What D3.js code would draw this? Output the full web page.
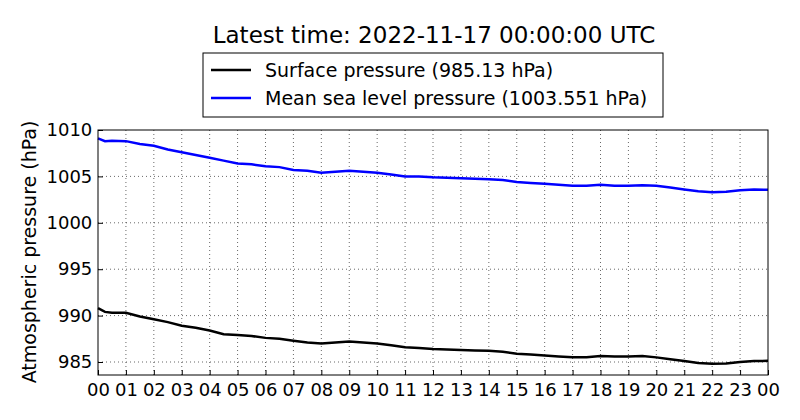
<!DOCTYPE html>
<html><head><meta charset="utf-8">
<script src="https://cdn.jsdelivr.net/npm/d3@7"></script>
<style>body{margin:0;background:#fff;font-family:"DejaVu Sans",sans-serif}</style>
</head><body><div id="chart"></div>
<script>
const width = 800, height = 420;
const margin = {top: 130, right: 32, bottom: 45, left: 98};

// hours since 00 UTC
const hours = [0,0.25,0.5,1,1.5,2,2.5,3,3.5,4,4.5,5,5.5,6,6.5,7,7.5,8,8.5,9,9.5,10,10.5,11,11.5,12,12.5,13,13.5,14,14.5,15,15.5,16,16.5,17,17.5,18,18.5,19,19.5,20,20.5,21,21.5,22,22.5,23,23.5,24];
const mslp = [1009.1,1008.8,1008.85,1008.8,1008.5,1008.3,1007.9,1007.6,1007.3,1007.0,1006.7,1006.4,1006.3,1006.1,1006.0,1005.7,1005.6,1005.4,1005.5,1005.6,1005.5,1005.4,1005.2,1005.0,1005.0,1004.9,1004.85,1004.8,1004.75,1004.7,1004.6,1004.4,1004.3,1004.2,1004.1,1004.0,1004.0,1004.1,1004.0,1004.0,1004.05,1004.0,1003.8,1003.6,1003.4,1003.3,1003.35,1003.5,1003.6,1003.55];
const sfcp = [990.8,990.4,990.3,990.3,989.9,989.6,989.3,988.9,988.7,988.4,988.0,987.9,987.8,987.6,987.5,987.3,987.1,987.0,987.1,987.2,987.1,987.0,986.8,986.6,986.5,986.4,986.35,986.3,986.25,986.2,986.1,985.9,985.8,985.7,985.6,985.5,985.5,985.65,985.6,985.6,985.65,985.5,985.3,985.1,984.9,984.8,984.85,985.0,985.1,985.13];
const yTicks = [985,990,995,1000,1005,1010];
const xTickLabels = ["00","01","02","03","04","05","06","07","08","09","10","11","12","13","14","15","16","17","18","19","20","21","22","23","00"];
const legendLabels = ["Surface pressure (985.13 hPa)","Mean sea level pressure (1003.551 hPa)"];
const colors = ["black","blue"];

const svg = d3.select("#chart").append("svg").attr("width", width).attr("height", height);
const x = d3.scaleLinear().domain([0,24]).range([margin.left, width - margin.right]);
const y = d3.scaleLinear().domain([983.6,1010]).range([height - margin.bottom, margin.top]);

// grid
svg.append("g").selectAll("line").data(d3.range(1,24)).enter().append("line")
  .attr("x1", d => x(d)).attr("x2", d => x(d)).attr("y1", y.range()[1]).attr("y2", y.range()[0])
  .attr("stroke","black").attr("stroke-width",0.6).attr("stroke-dasharray","1,3");
svg.append("g").selectAll("line").data(yTicks.slice(0,-1)).enter().append("line")
  .attr("y1", d => y(d)).attr("y2", d => y(d)).attr("x1", x.range()[0]).attr("x2", x.range()[1])
  .attr("stroke","black").attr("stroke-width",0.6).attr("stroke-dasharray","1,3");

const line = d3.line().x((d,i) => x(hours[i])).y(d => y(d));
[sfcp, mslp].forEach((s,k) => {
  svg.append("path").datum(s).attr("d", line).attr("fill","none")
    .attr("stroke", colors[k]).attr("stroke-width", 2.5);
});

// axes
const xAxis = svg.append("g").attr("transform", `translate(0,${height - margin.bottom})`)
  .call(d3.axisBottom(x).tickValues(d3.range(0,25)).tickFormat((d,i) => xTickLabels[i]).tickSizeInner(-5).tickSizeOuter(0));
const yAxis = svg.append("g").attr("transform", `translate(${margin.left},0)`)
  .call(d3.axisLeft(y).tickValues(yTicks).tickFormat(d3.format("d")).tickSizeInner(-5).tickSizeOuter(0));
[xAxis, yAxis].forEach(a => {
  a.selectAll("text").attr("font-family","DejaVu Sans").attr("font-size",18).attr("fill","black");
  a.select(".domain").remove();
});
xAxis.selectAll("text").attr("dy","1.0em");
yAxis.selectAll("text").attr("dx","-0.15em");
svg.append("rect").attr("x", margin.left).attr("y", margin.top)
  .attr("width", x.range()[1]-margin.left).attr("height", y.range()[0]-margin.top)
  .attr("fill","none").attr("stroke","black");

svg.append("text").attr("x", 434).attr("y", 43).attr("text-anchor","middle")
  .attr("font-size",23).text("Latest time: 2022-11-17 00:00:00 UTC");
svg.append("text").attr("transform","translate(36,252) rotate(-90)").attr("text-anchor","middle")
  .attr("font-size",19).text("Atmospheric pressure (hPa)");

// legend
const lg = svg.append("g");
lg.append("rect").attr("x",203).attr("y",53).attr("width",460).attr("height",64)
  .attr("fill","white").attr("stroke","black");
legendLabels.forEach((t,i) => {
  const yy = 70 + i*28;
  lg.append("line").attr("x1",211).attr("x2",251).attr("y1",yy).attr("y2",yy)
    .attr("stroke",colors[i]).attr("stroke-width",2.5);
  lg.append("text").attr("x",265).attr("y",yy+7).attr("font-size",19).text(t);
});
</script></body></html>
